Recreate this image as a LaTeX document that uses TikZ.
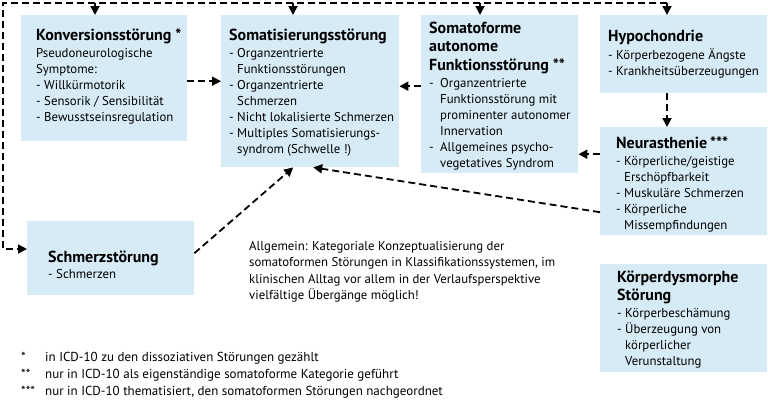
\documentclass[tikz,border=0pt]{standalone}
\usepackage{fontspec}
\setmainfont{PT Sans}
\usetikzlibrary{arrows.meta}
\definecolor{boxblue}{RGB}{214,235,246}
\tikzset{
  box/.style={fill=boxblue, anchor=north west, inner sep=0pt},
  txt/.style={anchor=north west, align=left, inner sep=0pt, font=\fontsize{12.8bp}{16bp}\selectfont},
  dline/.style={line width=1.8bp, dash pattern=on 7bp off 4bp, -{Triangle[length=9bp,width=9bp]}},
}
\newcommand{\fs}{\rule{0pt}{12.5bp}}
\newcommand{\ttl}[1]{{\fs\fontsize{16bp}{18bp}\selectfont\bfseries #1}}
\newcommand{\ind}{\phantom{- }}
\newcommand{\indw}{\phantom{-\enspace}}

\begin{document}
\begin{tikzpicture}[x=1bp, y=-1bp]
    \useasboundingbox (0,0) rectangle (768,400);

    % Boxes
    \node[box, minimum width=166bp, minimum height=126bp] (konv) at (21,15) {};
    \node[box, minimum width=178bp, minimum height=152bp] (somat) at (221,15) {};
    \node[box, minimum width=157bp, minimum height=158bp] (auton) at (421,15) {};
    \node[box, minimum width=167bp, minimum height=78bp] (hypo) at (600,15) {};
    \node[box, minimum width=167bp, minimum height=108bp] (neur) at (600,127) {};
    \node[box, minimum width=167bp, minimum height=74bp] (schm) at (27,221) {};
    \node[box, minimum width=167bp, minimum height=108bp] (koerp) at (600,264) {};

    % Box texts
    \node[txt] (konvtxt) at (36,27.5) {\ttl{Konversionsstörung *}\\[1bp]
        Pseudoneurologische\\ Symptome:\\ - Willkürmotorik\\
        - Sensorik / Sensibilität\\ - Bewusstseinsregulation};
    \node[txt] (somattxt) at (229,27.5) {\ttl{Somatisierungsstörung}\\[1bp]
        - Organzentrierte\\ \ind Funktionsstörungen\\ - Organzentrierte\\ \ind Schmerzen\\
        - Nicht lokalisierte Schmerzen\\ - Multiples Somatisierungs-\\ \ind syndrom (Schwelle !)};
    \node[txt] (autontxt) at (429,20.5) {\ttl{Somatoforme}\\[2.5bp] \ttl{autonome}\\[2.5bp]
        \ttl{Funktionsstörung **}\\[1bp]
        -\enspace Organzentrierte\\ \indw Funktionsstörung mit\\ \indw prominenter autonomer\\
        \indw Innervation\\ -\enspace Allgemeines psycho-\\ \indw vegetatives Syndrom};
    \node[txt] (hypotxt) at (608,28.5) {\ttl{Hypochondrie}\\[2bp]
        - Körperbezogene Ängste\\ - Krankheitsüberzeugungen};
    \node[txt] (neurtxt) at (616,135.5) {\ttl{Neurasthenie\,***}\\[1bp]
        - Körperliche/geistige\\ \ind Erschöpfbarkeit\\ - Muskuläre Schmerzen\\
        - Körperliche\\ \ind Missempfindungen};
    \node[txt] (schmtxt) at (48,249.5) {\ttl{Schmerzstörung}\\ - Schmerzen};
    \node[txt] (koerptxt) at (617,269.5) {\ttl{Körperdysmorphe}\\[2bp] \ttl{Störung}\\[1bp]
        - Körperbeschämung\\ - Überzeugung von\\ \ind körperlicher\\ \ind Verunstaltung};

    % Note and footnotes
    \node[txt, font=\fontsize{12.8bp}{16.5bp}\selectfont] (note) at (249,237.5) {\fs Allgemein: Kategoriale Konzeptualisierung der\\
        somatoformen Störungen in Klassifikationssystemen, im\\
        klinischen Alltag vor allem in der Verlaufsperspektive\\
        vielfältige Übergänge möglich!};
    \node[txt, font=\fontsize{13bp}{17bp}\selectfont] (fn) at (21,348.5) {\fs *\\ **\\ ***};
    \node[txt, font=\fontsize{13bp}{17bp}\selectfont] (fntxt) at (45,348.5) {\fs in ICD-10 zu den dissoziativen Störungen gezählt\\
        nur in ICD-10 als eigenständige somatoforme Kategorie geführt\\
        nur in ICD-10 thematisiert, den somatoformen Störungen nachgeordnet};

    % Frame line along top and left
    \coordinate (tl) at (3,3);
    \coordinate (bl) at (3,249);
    \coordinate (dk) at (95,3);
    \coordinate (ds) at (293,3);
    \coordinate (da) at (480,3);
    \coordinate (dh) at (667,3);
    \draw[dline] (dh) -- (tl) -- (bl) -- (bl -| schm.west); % to Schmerzstoerung
    \foreach \c/\b in {dk/konv, ds/somat, da/auton, dh/hypo}
        \draw[dline] (\c) -- (\c |- \b.north);

    % Edges
    \draw[dline] ([yshift=-3bp]konv.east) -- ([yshift=-3bp]konv.east -| somat.west);
    \draw[dline] ([yshift=8bp]auton.west) -- ([yshift=8bp]auton.west -| somat.east);
    \draw[dline] (hypo.south -| dh) -- (neur.north -| dh);
    \draw[dline] ([yshift=27bp]neur.west) -- ([yshift=27bp]neur.west -| auton.east);
    \draw[dline] ([yshift=-31bp]neur.west) -- ([xshift=3bp]somat.south);
    \draw[dline] ([yshift=5bp]schm.east) -- ([xshift=-17bp]somat.south);
\end{tikzpicture}
\end{document}
